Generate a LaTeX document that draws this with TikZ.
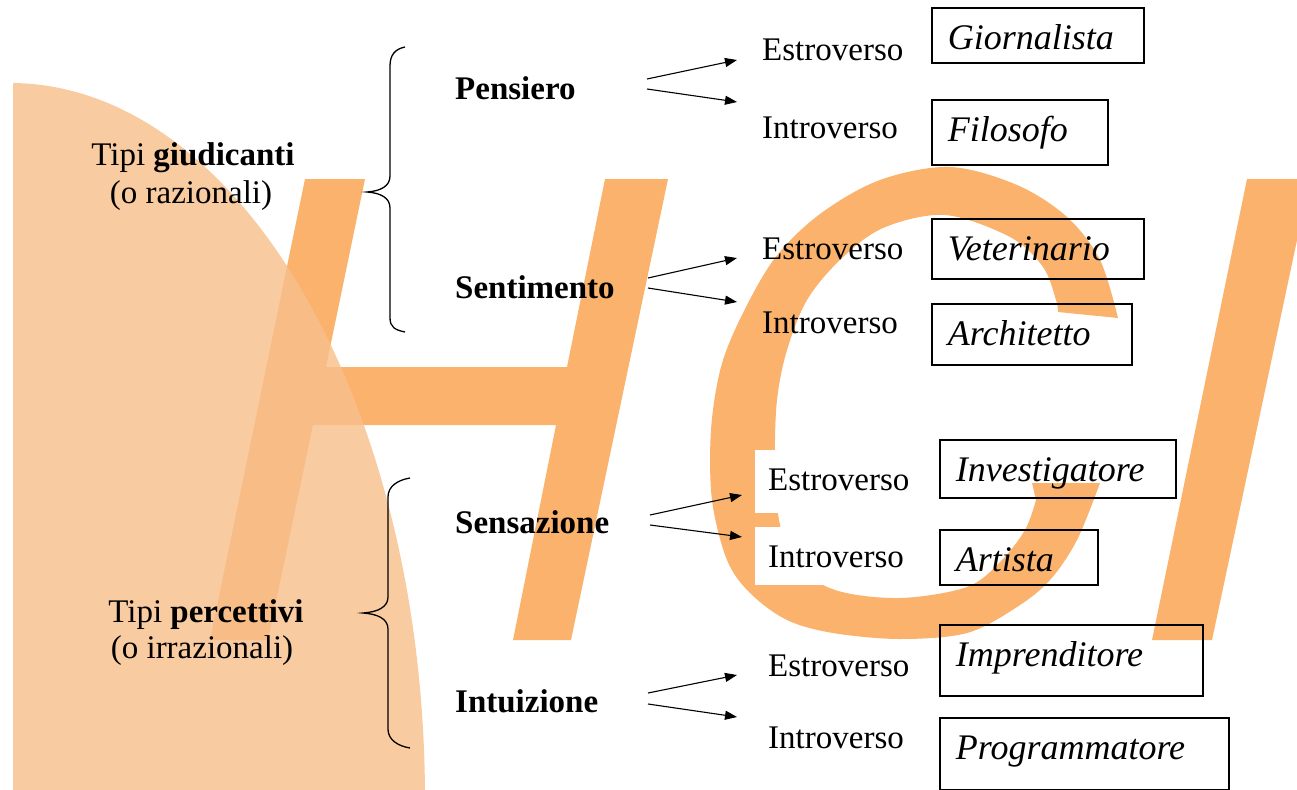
\documentclass[tikz,border=0pt]{standalone}
\usepackage{fontspec}
\setmainfont{Liberation Serif}
\usetikzlibrary{arrows.meta}
\definecolor{hgi}{HTML}{FAB26C}
\definecolor{blobc}{HTML}{F8C08C}
\begin{document}
\begin{tikzpicture}[x=1pt,y=-1pt,
  lbl/.style={font=\fontsize{33}{38}\selectfont, inner sep=0pt, anchor=base west},
  cat/.style={font=\fontsize{33}{38}\selectfont\bfseries, inner sep=0pt, anchor=base west},
  grp/.style={font=\fontsize{33}{38}\selectfont, inner sep=0pt, anchor=base},
  job/.style={draw, line width=1.7pt, font=\fontsize{36}{40}\selectfont\itshape, inner xsep=16pt, inner ysep=0pt, text height=42pt, align=left, anchor=north west},
  arr/.style={-{Triangle[length=12pt,width=9pt]}, line width=1.1pt},
  brace/.style={line width=1.3pt},
  wbg/.style={fill=white, inner xsep=13pt, inner ysep=0pt, text height=40pt, anchor=base west, font=\fontsize{33}{38}\selectfont},
]
\useasboundingbox (0,0) rectangle (1297,789);
\clip (0,0) rectangle (1297,789);
\fill[white] (0,0) rectangle (1297,789);

% --- watermark letters H, G, I ---
\fill[hgi] (305,179) -- (365,179) -- (326,367) -- (567,367) -- (605,179) -- (668,179)
  -- (571,640) -- (513,640) -- (556,425) -- (313,425) -- (268,640) -- (210,640) -- cycle;
\fill[hgi] (1118,318) -- plot[smooth, tension=0.55] coordinates {(1118,318) (1100,260) (1067,217) (1017,185) (950,167) (880,180) (820,214) (775,258) (742,315) (721,367) (711,430) (712,500) (727,560) (750,593) (787,620) (833,633) (900,639) (967,633) (1017,607) (1050,580) (1077,540) (1100,483)}
  -- (1032,483)
  -- plot[smooth, tension=0.55] coordinates {(1036,500) (1025,530) (1000,562) (967,587) (900,598) (835,590) (795,563) (779,520) (775,460) (777,400) (787,350) (807,300) (840,260) (883,228) (945,215) (1010,237) (1043,267) (1056,300) (1058,312)}
  -- cycle;
\fill[hgi] (1247,179) -- (1310,179) -- (1212,640) -- (1152,640) -- cycle;
% --- peach blob ---
\begin{scope}
  \clip (13,0) rectangle (1297,789);
  \fill[blobc, opacity=0.82] (10,800) ellipse [x radius=415, y radius=717];
\end{scope}

% --- group labels ---
\node[grp] (g1a) at (193,165) {Tipi \textbf{giudicanti}};
\node[grp] (g1b) at (191,203) {(o razionali)};
\node[grp] (g2a) at (206,622) {Tipi \textbf{percettivi}};
\node[grp] (g2b) at (202,658) {(o irrazionali)};

% --- braces ---
\draw[brace] (405,47) .. controls (395,49) and (390,55) .. (390,66) -- (390,176)
  .. controls (390,186) and (381,191) .. (367,192) .. controls (381,193) and (390,198) .. (390,208)
  -- (390,318) .. controls (390,327) and (395,330) .. (405,332);
\draw[brace] (410,478) .. controls (398,480) and (388,486) .. (388,497) -- (388,597)
  .. controls (388,607) and (378,612) .. (363,613) .. controls (378,614) and (388,619) .. (388,629)
  -- (388,729) .. controls (388,740) and (398,746) .. (410,748);

% --- categories ---
\node[cat] (pens) at (455,100) {Pensiero};
\node[cat] (sent) at (455,298) {Sentimento};
\node[cat] (sens) at (455,533) {Sensazione};
\node[cat] (intu) at (455,712) {Intuizione};

% --- E / I labels ---
\node[lbl] (e1) at (762,61) {Estroverso};
\node[lbl] (i1) at (762,138) {Introverso};
\node[lbl] (e2) at (762,259) {Estroverso};
\node[lbl] (i2) at (762,333) {Introverso};
\node[wbg, text depth=23pt] (e3) at (755,490) {Estroverso};
\node[wbg, text depth=18pt] (i3) at (755,567) {Introverso};
\node[lbl] (e4) at (768,676) {Estroverso};
\node[lbl] (i4) at (768,748) {Introverso};

% --- arrows ---
\coordinate (p1) at (647,79);  \coordinate (p1e) at (737,60);
\coordinate (p2) at (647,89);  \coordinate (p2e) at (737,102);
\coordinate (s1) at (648,278); \coordinate (s1e) at (737,258);
\coordinate (s2) at (648,288); \coordinate (s2e) at (737,302);
\coordinate (n1) at (650,515); \coordinate (n1e) at (742,495);
\coordinate (n2) at (650,525); \coordinate (n2e) at (742,537);
\coordinate (t1) at (648,693); \coordinate (t1e) at (737,675);
\coordinate (t2) at (648,704); \coordinate (t2e) at (737,717);
\draw[arr] (p1) -- (p1e);
\draw[arr] (p2) -- (p2e);
\draw[arr] (s1) -- (s1e);
\draw[arr] (s2) -- (s2e);
\draw[arr] (n1) -- (n1e);
\draw[arr] (n2) -- (n2e);
\draw[arr] (t1) -- (t1e);
\draw[arr] (t2) -- (t2e);

% --- job boxes ---
\node[job, text width=180pt, text depth=13pt] (giorn) at (931,7) {Giornalista};
\node[job, text width=144pt, text depth=23pt] (filo) at (931,99) {Filosofo};
\node[job, text width=180pt, text depth=18pt] (vete) at (931,218) {Veterinario};
\node[job, text width=168pt, text depth=19pt] (arch) at (931,303) {Architetto};
\node[job, text width=204pt, text depth=16pt] (inve) at (939,439) {Investigatore};
\node[job, text width=126pt, text depth=13pt] (arti) at (939,529) {Artista};
\node[job, text width=231pt, text depth=29pt] (impr) at (939,624) {Imprenditore};
\node[job, text width=257pt, text depth=30pt] (prog) at (939,717) {Programmatore};
\end{tikzpicture}
\end{document}
